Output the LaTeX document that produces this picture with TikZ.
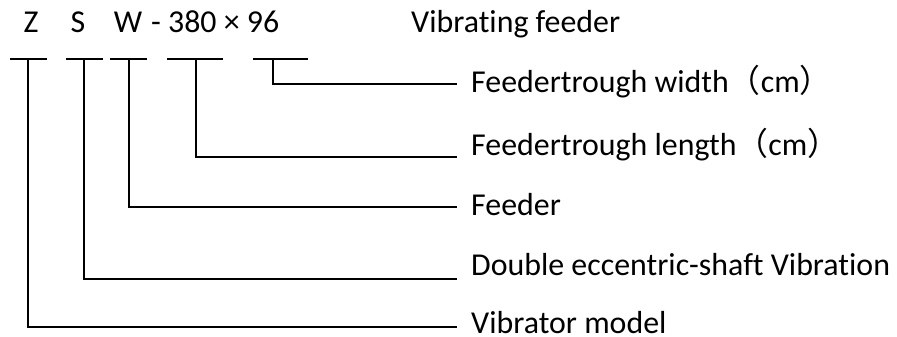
\documentclass[tikz,border=0pt]{standalone}
\usepackage{fontspec}
\setmainfont{Carlito}[Ligatures=NoCommon]
\newfontfamily\cjkfont{Noto Sans CJK SC}
\usetikzlibrary{positioning}
\newcommand{\fwparen}[1]{{\cjkfont （}#1{\cjkfont ）}}

\begin{document}
\begin{tikzpicture}[x=1bp,y=-1bp]
    % Define styles for code letters, bars and labels
    \tikzstyle{code}=[inner sep=0pt, anchor=base, font=\fontsize{32}{38}\selectfont]
    \tikzstyle{label}=[inner sep=0pt, anchor=base west, font=\fontsize{32}{38}\selectfont]
    \tikzstyle{bar}=[line width=1.5bp]
    \tikzstyle{leader}=[line width=1.5bp]
    \useasboundingbox (0,0) rectangle (897,336);

    % Model code
    \node[code] (C-Z) at (31,32) {Z};
    \node[code] (C-S) at (78,32) {S};
    \node[code] (C-W) at (128,32) {W};
    \node[code, anchor=base west] (C-N) at (151,32) {- 380 × 96};
    \node[label] (T) at (411,32) {Vibrating feeder};

    % Bars under the code, with the drop points
    \foreach \n/\a/\b/\d in {1/10/47/28, 2/66/103/84, 3/110/147/129, 4/167/223/196, 5/253/308/273} {
        \draw[bar] (\a,59) -- (\b,59);
        \coordinate (B-\n) at (\d,59);
    }

    % Labels and leaders
    \foreach \n/\y/\base/\txt in {5/84/92/{Feedertrough width\fwparen{cm}},
                                  4/157/155/{Feedertrough length\fwparen{cm}},
                                  3/207/215/{Feeder},
                                  2/279/275/{Double eccentric-shaft Vibration},
                                  1/327/333/{Vibrator model}} {
        \node[label] (L-\n) at (471,\base) {\txt};
        \coordinate (E-\n) at (457,\y);
        \draw[leader] (B-\n) |- (E-\n);
    }
\end{tikzpicture}
\end{document}
